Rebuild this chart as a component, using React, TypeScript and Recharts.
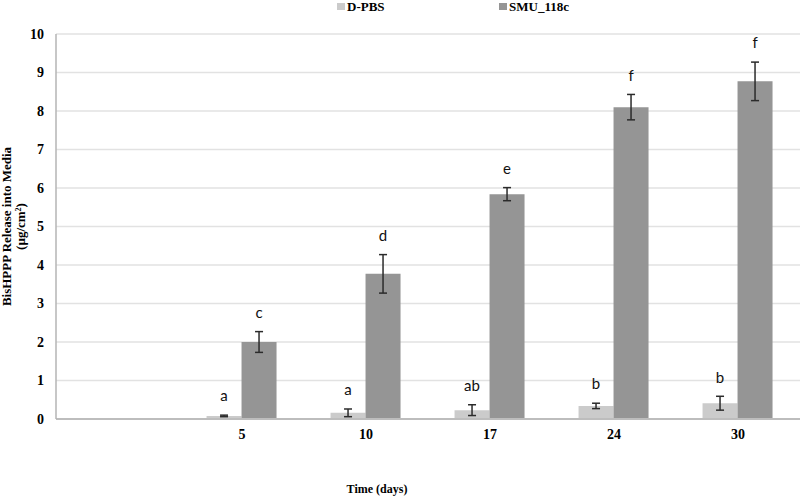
import React from 'react';
import { BarChart, Bar, XAxis, YAxis, CartesianGrid, Legend, ErrorBar, LabelList } from 'recharts';

// time points (first slot is left empty in the original figure)
const days = ['', '5', '10', '17', '24', '30'];

const dpbsMean = [null, 0.08, 0.16, 0.23, 0.34, 0.41];
const dpbsErr = [null, 0.02, 0.1, 0.14, 0.07, 0.18];
const dpbsLetters = ['', 'a', 'a', 'ab', 'b', 'b'];

const smuMean = [null, 2.0, 3.77, 5.84, 8.1, 8.77];
const smuErr = [null, 0.27, 0.5, 0.17, 0.33, 0.5];
const smuLetters = ['', 'c', 'd', 'e', 'f', 'f'];

const yTicks = [0, 1, 2, 3, 4, 5, 6, 7, 8, 9, 10];

const serif = "'Liberation Serif', 'Times New Roman', serif";

const chartData = days.map((day, i) => ({
  day,
  dpbs: dpbsMean[i],
  dpbsErr: dpbsErr[i],
  smu: smuMean[i],
  smuErr: smuErr[i],
}));

// significance letters sit a little above the error bar cap
// (label value is the day, so look up the series by it)
const letterLabel = (means: (number | null)[], errs: (number | null)[], letters: string[]) => (props: any) => {
  const { x, y, width, height, value } = props;
  const i = days.indexOf(String(value));
  const mean = i >= 0 ? means[i] : null;
  if (mean == null || !letters[i]) return null;
  const pxPerUnit = mean > 0 ? Math.abs(height) / mean : 0;
  const errTop = y - (errs[i] || 0) * pxPerUnit;
  return (
    <text
      x={x + width / 2}
      y={errTop - 19}
      dy="0.35em"
      textAnchor="middle"
      fontFamily="Lato, 'Open Sans', sans-serif"
      fontSize={15}
      fill="#111"
    >
      {letters[i]}
    </text>
  );
};

const renderLegend = (props: any) => {
  const lefts = [337, 499];
  return (
    <div style={{ position: 'relative', height: 20, fontFamily: serif, fontWeight: 'bold', fontSize: 13 }}>
      {(props.payload || []).map((entry: any, i: number) => (
        <div key={entry.value} style={{ position: 'absolute', left: lefts[i], top: 0, display: 'flex', alignItems: 'center' }}>
          <span style={{ display: 'inline-block', width: 8, height: 7, background: entry.color, marginRight: 2 }} />
          <span style={{ color: '#000', lineHeight: '13px' }}>{entry.value}</span>
        </div>
      ))}
    </div>
  );
};

const renderYTitle = (props: any) => {
  const { viewBox } = props;
  const cy = viewBox.y + viewBox.height / 2;
  return (
    <g fontFamily={serif} fontWeight="bold" fontSize={13} fill="#000">
      <text x={11} y={cy} textAnchor="middle" transform={`rotate(-90, 11, ${cy})`}>
        BisHPPP Release into Media
      </text>
      <text x={25} y={cy} textAnchor="middle" transform={`rotate(-90, 25, ${cy})`}>
        (µg/cm<tspan dy={-4} fontSize={8}>2</tspan><tspan dy={4}>)</tspan>
      </text>
    </g>
  );
};

const renderXTitle = (props: any) => {
  const { viewBox } = props;
  return (
    <text x={377} y={viewBox.y + 74} textAnchor="middle" fontFamily={serif} fontWeight="bold" fontSize={12} fill="#000">
      Time (days)
    </text>
  );
};

export default function App() {
  return (
    <div style={{ position: 'absolute', left: 0, top: 0, width: 800, height: 496, background: '#fff' }}>
      <BarChart
        width={800}
        height={496}
        data={chartData}
        margin={{ top: 14, right: 0, bottom: 0, left: 0 }}
        barCategoryGap="21.4%"
        barGap={0}
      >
        <CartesianGrid vertical={false} stroke="#e2e2e2" strokeWidth={1.5} />
        <XAxis
          dataKey="day"
          height={77}
          axisLine={{ stroke: '#bdbdbd', strokeWidth: 2 }}
          tickLine={false}
          tickSize={6}
          tickMargin={4}
          tick={{ fontFamily: serif, fontWeight: 'bold', fontSize: 14, fill: '#000' }}
          label={{ content: renderXTitle }}
        />
        <YAxis
          width={56}
          domain={[0, 10]}
          ticks={yTicks}
          interval={0}
          axisLine={{ stroke: '#b5b5b5', strokeWidth: 1.5 }}
          tickLine={false}
          tickSize={6}
          tickMargin={6}
          tick={{ fontFamily: serif, fontWeight: 'bold', fontSize: 14, fill: '#000' }}
          label={{ content: renderYTitle }}
        />
        <Legend
          verticalAlign="top"
          content={renderLegend}
          wrapperStyle={{ top: 0, left: 0, width: 800, height: 20 }}
        />
        <Bar dataKey="dpbs" name="D-PBS" fill="#cbcbcb" isAnimationActive={false}>
          <ErrorBar dataKey="dpbsErr" width={4} strokeWidth={1.5} stroke="#2b2b2b" />
          <LabelList dataKey="day" content={letterLabel(dpbsMean, dpbsErr, dpbsLetters)} />
        </Bar>
        <Bar dataKey="smu" name="SMU_118c" fill="#959595" isAnimationActive={false}>
          <ErrorBar dataKey="smuErr" width={4} strokeWidth={1.5} stroke="#2b2b2b" />
          <LabelList dataKey="day" content={letterLabel(smuMean, smuErr, smuLetters)} />
        </Bar>
      </BarChart>
    </div>
  );
}
